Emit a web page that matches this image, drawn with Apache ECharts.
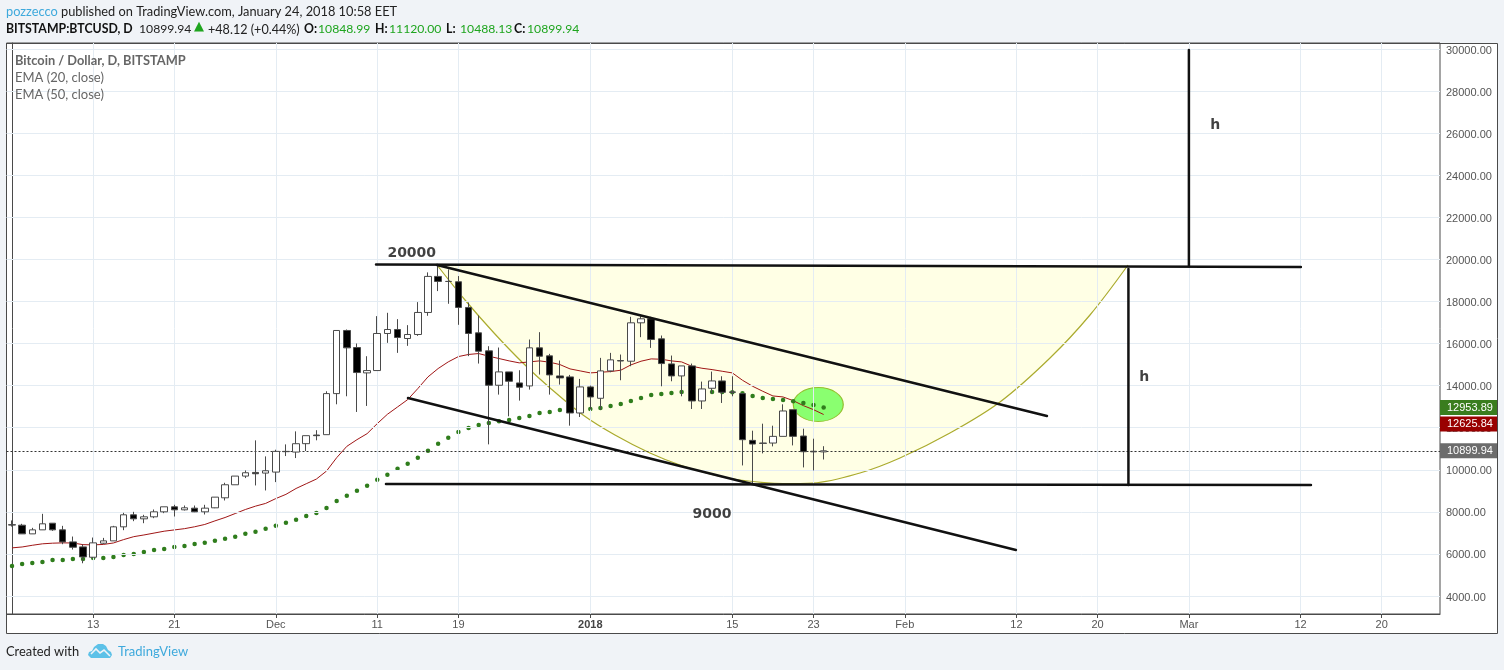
<!DOCTYPE html>
<html><head><meta charset="utf-8">
<style>html,body{margin:0;padding:0;background:#f0f3f7}#c{width:1504px;height:670px}</style>
<script src="https://cdn.jsdelivr.net/npm/echarts@6/dist/echarts.min.js"></script>
</head><body><div id="c"></div>
<script>
// Daily bars from 5 Nov 2017 (day 0) to 24 Jan 2018 (day 80)
const opens = [7390,7366,6953,7144,7460,7144,6572,6334,5842,6509,6620,7287,7858,7667,7763,8000,8239,8096,8175,8000,8191,8667,9286,9699,9873,9842,9889,10873,10841,
11240,11650,11668,13620,16620,15810,14604,14715,16477,16667,16238,16429,17476,19190,18952,18936,17714,16508,15651,14016,14651,14127,13984,15794,15413,14460,14413,12699,
13937,13397,14699,15190,15159,16984,17175,16222,15031,14460,14936,13270,13873,14222,13700,13619,11397,11270,11270,11587,12857,11603,10880,10848.99];
const highs = [7590,7430,7240,7905,7460,7334,6826,6445,6778,6762,7334,7953,8000,7858,8112,8239,8334,8300,8300,8334,8700,9381,9699,9968,11397,10635,10952,11206,11825,
11620,11880,13731,16620,16667,16000,15397,17302,17460,17159,16873,17968,19381,19700,19524,19206,17950,17333,15873,15810,14651,14731,16190,16540,15508,15191,14508,14318,
14000,15318,15556,15476,17270,17300,17270,16380,15428,14936,15047,14190,14666,14444,14444,13619,11857,12190,12095,13111,12857,11952,11476,11120];
const lows = [7300,6950,6950,7144,7096,6461,6207,5556,5810,6477,6620,7128,7556,7460,7699,7937,7778,8064,7985,7874,8175,8540,9286,9604,9254,9016,9413,10651,10556,
10890,11400,11668,13112,13493,12747,13033,14715,16032,15556,15889,16365,17318,18492,17889,16889,15400,15048,11207,13572,12540,13286,13810,14524,13572,14048,12096,12508,
12858,12858,14635,14254,14921,16302,15793,13968,14206,13492,12889,12889,13619,13175,13492,10206,9286,10778,11111,11587,11158,10111,9968,10488.13];
const closes = [7370,6953,7144,7430,7144,6572,6318,5858,6525,6620,7287,7858,7667,7763,8000,8239,8096,8191,8000,8175,8699,9286,9699,9857,9810,9953,10873,10860,11238,
11620,11620,13620,16620,15794,14620,14715,16477,16667,16286,16429,17476,19190,18952,18950,17714,16477,15635,14016,14651,14207,13921,15794,15397,14508,14365,12699,13937,
13461,14699,15223,15170,16984,17175,16190,15047,14460,14936,13270,13841,14222,13682,13682,11429,11222,11254,11587,12794,11587,10857,10850,10899.94];
const ema20 = [6287,6330,6410,6480,6510,6525,6520,6440,6430,6450,6520,6680,6820,6900,6990,7080,7140,7200,7290,7400,7570,7730,7920,8110,8270,8400,8630,8830,9110,
9335,9557,9938,10573,11112,11430,11716,12192,12636,12985,13334,13858,14414,14810,15127,15380,15480,15524,15397,15286,15175,15080,15127,15175,15111,15000,14794,14699,
14604,14635,14667,14731,14984,15159,15269,15253,15174,15126,14920,14825,14761,14682,14603,14254,13968,13730,13508,13460,13285,13048,12857,12625.84];
const ema50 = [5430,5525,5573,5620,5715,5715,5763,5763,5810,5810,5858,5953,6001,6096,6191,6239,6334,6382,6477,6525,6620,6715,6810,6953,7048,7191,7334,7477,7620,
7802,7945,8183,8515,8764,9002,9240,9525,9764,10049,10287,10573,10906,11240,11525,11800,11985,12128,12223,12302,12366,12461,12556,12699,12747,12842,12860,12880,
12890,12937,13033,13128,13270,13413,13555,13603,13651,13698,13700,13700,13698,13700,13682,13635,13508,13413,13365,13317,13254,13174,13079,12953.89];
const tickDays = [8,16,26,36,44,57,71,79,88,99,107,116,127,135];
const tickLabels = ['13','21','Dec','11','19','2018','15','23','Feb','12','20','Mar','12','20'];
const tickPrices = [4000,6000,8000,10000,12000,14000,16000,18000,20000,22000,24000,26000,28000,30000];
// Hand-drawn annotations as [day, price]
const resistanceLine = [[35.88,19756],[127.04,19637]];
const supportLine = [[36.86,9323],[128.03,9276]];
const channelTop = [[41.89,19732],[102.01,12555]];
const channelBottom = [[39.03,13411],[98.95,6186]];
const heightLeg = [[110.04,19542],[110.04,9276]];
const targetLeg = [[116.0,19685],[116.0,29951]];
const cupCurve = [[41.89,19732],[44.65,18069],[47.51,16500],[50.36,15074],[53.03,13886],[56.28,12603],[59.43,11652],[62.88,10797],[65.84,10226],[68.79,9799],[71.75,9513],[75.99,9347],[78.95,9371],[83.58,9846],[87.52,10559],[92.45,11747],[97.38,13221],[102.31,15312],[106.25,17356],[110.0,19732]];
const highlightSpot = [[79.47,13102]];
const noteTexts = ['20000','9000','h','h'];
const notePoints = [[39.4,20285],[69.0,7857],[118.6,26375],[111.6,14385]];
const quoteTexts = ['BITSTAMP:BTCUSD, D','10899.94','+48.12 (+0.44%)','O:','10848.99','H:','11120.00','L:','10488.13','C:','10899.94'];

// Presentation only
const quoteLefts = [6,139,208,304,318,375,389,446,460,514,527];
const quoteBold = [1,0,0,1,0,1,0,1,0,1,0];
const quoteGreen = [0,0,0,0,1,0,1,0,1,0,1];
const C = {ax:'#4a4a4a', grid:'#e4ecf3', up:'#ffffff', down:'#000000', tick:'#555555', green:'#1fa51f', blue:'#3ea9dc'};
const labelFont = '"Liberation Sans",Arial,sans-serif';
const headFont = 'Lato,"Open Sans",sans-serif';
const drawn = (name,data)=>({name,type:'line',data,z:6,symbol:'none',silent:true,lineStyle:{color:'#111',width:2.5,cap:'round'}});
const tag = (v,bg,offset,lineStyle)=>({yAxis:v,lineStyle:lineStyle||{color:'rgba(0,0,0,0)',width:0},label:{show:true,position:'end',distance:0,formatter:v.toFixed(2),
  backgroundColor:bg,color:'#fff',fontFamily:labelFont,fontSize:11,lineHeight:15,height:15,width:45,padding:[0,5,0,7],align:'left',offset:offset||[0,0]}});

const chart = echarts.init(document.getElementById('c'),null,{renderer:'canvas',width:1504,height:670});
chart.setOption({
  animation:false,
  backgroundColor:'#f0f3f7',
  grid:{left:6.5,top:43,width:1433.5,height:571,show:true,borderColor:C.ax,borderWidth:1,backgroundColor:'transparent'},
  xAxis:{type:'value',min:-0.542,max:140.75,position:'bottom',
    axisLine:{show:true,onZero:false,lineStyle:{color:C.ax}},
    axisTick:{show:true,length:4,lineStyle:{color:C.ax},customValues:tickDays},
    splitLine:{show:false},
    axisLabel:{customValues:tickDays,margin:5,color:C.tick,fontFamily:labelFont,fontSize:11,
      formatter:v=>{const s=tickLabels[tickDays.indexOf(v)];return s==='2018'?'{b|2018}':s;},
      rich:{b:{fontWeight:'bold',color:'#444',fontFamily:labelFont,fontSize:11}}}},
  yAxis:{type:'value',min:3144,max:30284,position:'right',
    axisLine:{show:true,lineStyle:{color:C.ax}},
    axisTick:{show:true,length:3,lineStyle:{color:C.ax},customValues:tickPrices},
    splitLine:{show:false},
    axisLabel:{customValues:tickPrices,margin:6,color:C.tick,fontFamily:labelFont,fontSize:11,
      formatter:v=>'{p|'+v.toFixed(2)+'}',
      rich:{p:{padding:[3,0,0,0],color:C.tick,fontFamily:labelFont,fontSize:11}}}},
  title:[
    {left:6,top:5,padding:0,text:'{a|pozzecco} published on TradingView.com, January 24, 2018 10:58 EET',
      textStyle:{fontFamily:headFont,fontSize:12.8,fontWeight:'normal',color:'#222',rich:{a:{color:C.blue,fontFamily:headFont,fontSize:12.8}}}},
    ...quoteTexts.map((t,i)=>({left:quoteLefts[i],top:23,padding:0,text:t,textStyle:{fontFamily:headFont,fontSize:quoteBold[i]?12.3:(i===2?12.6:12.2),fontWeight:quoteBold[i]?'bold':'normal',color:quoteGreen[i]?C.green:(quoteBold[i]?'#111':'#222')}})),
    {left:194,top:20,padding:0,text:'▲',textStyle:{fontFamily:'"DejaVu Sans",sans-serif',fontSize:13,fontWeight:'normal',color:C.green}},
    {left:15,top:54,padding:0,text:'Bitcoin / Dollar, D, BITSTAMP',textStyle:{fontFamily:headFont,fontSize:12.8,fontWeight:'bold',color:'#666'}},
    {left:15,top:71,padding:0,text:'EMA (20, close)',textStyle:{fontFamily:headFont,fontSize:13,fontWeight:'normal',color:'#666'}},
    {left:15,top:88,padding:0,text:'EMA (50, close)',textStyle:{fontFamily:headFont,fontSize:13,fontWeight:'normal',color:'#666'}},
    {left:6,top:645,padding:0,text:'Created with',textStyle:{fontFamily:headFont,fontSize:12.9,fontWeight:'normal',color:'#222'}},
    {left:118,top:645,padding:0,text:'TradingView',textStyle:{fontFamily:headFont,fontSize:13,fontWeight:'normal',color:C.blue}}
  ],
  graphic:[
    {type:'rect',z:-10,shape:{x:6.5,y:43.5,width:1491,height:590},style:{fill:'#fff',stroke:C.ax,lineWidth:1}},
    {type:'polygon',z:10,shape:{points:[[91,658],[88,655],[89,652],[92,651],[94,647],[98,644],[103,644],[106,646],[108,650],[111,652],[112,655],[110,658]]},style:{fill:'#5cc1e8'}},
    {type:'polyline',z:11,shape:{points:[[91,654],[96,649],[100,653],[104,650],[110,656]]},style:{stroke:'#f0f3f7',fill:'none',lineWidth:1.6}}
  ],
  series:[
    {name:'grid',type:'line',data:[],z:1,silent:true,
      markLine:{symbol:'none',silent:true,animation:false,label:{show:false},lineStyle:{color:C.grid,type:'solid',width:1},
        data:tickDays.map(d=>({xAxis:d})).concat(tickPrices.map(p=>({yAxis:p})))}},
    {name:'Cup',type:'line',data:cupCurve,z:2,symbol:'none',smooth:0.35,silent:true,
      lineStyle:{color:'#abab2e',width:1.2},areaStyle:{color:'rgba(255,255,0,0.1)',origin:19732,opacity:1}},
    {name:'Spot',type:'scatter',data:highlightSpot,z:3,symbol:'circle',symbolSize:[50,34],silent:true,
      itemStyle:{color:'rgba(105,255,80,0.78)',borderColor:'#94bf2e',borderWidth:1,opacity:1}},
    {name:'EMA (20, close)',type:'line',data:ema20.map((v,i)=>[i,v]),z:4,symbol:'none',lineStyle:{color:'#a01616',width:1}},
    {name:'EMA (50, close)',type:'scatter',data:ema50.map((v,i)=>[i,v]),z:4,symbol:'circle',symbolSize:4.5,itemStyle:{color:'#2f7d1c',opacity:1}},
    {name:'BTCUSD',type:'candlestick',z:5,barWidth:7,
      data:opens.map((o,i)=>[i,o,closes[i],lows[i],highs[i]]),
      itemStyle:{color:C.up,color0:C.down,borderColor:C.ax,borderColor0:C.ax,borderWidth:1},
      markLine:{symbol:'none',silent:true,animation:false,
        data:[
          tag(closes[80],'#6c6c6c',null,{color:'#333',type:[2,2],width:1}),
          tag(ema50[80],'#3a7d1e'),
          tag(ema20[80],'#990000',[0,9.5])
        ]}},
    drawn('Resistance',resistanceLine),drawn('Support',supportLine),drawn('Channel top',channelTop),
    drawn('Channel bottom',channelBottom),drawn('Height',heightLeg),drawn('Target',targetLeg),
    {name:'Notes',type:'scatter',z:7,symbolSize:0,silent:true,data:notePoints.map((p,i)=>({value:p,note:noteTexts[i]})),
      label:{show:true,position:'inside',formatter:p=>p.data.note,fontFamily:'"DejaVu Sans",sans-serif',fontWeight:'bold',fontSize:14,color:'#111'}}
  ]
});
</script></body></html>
